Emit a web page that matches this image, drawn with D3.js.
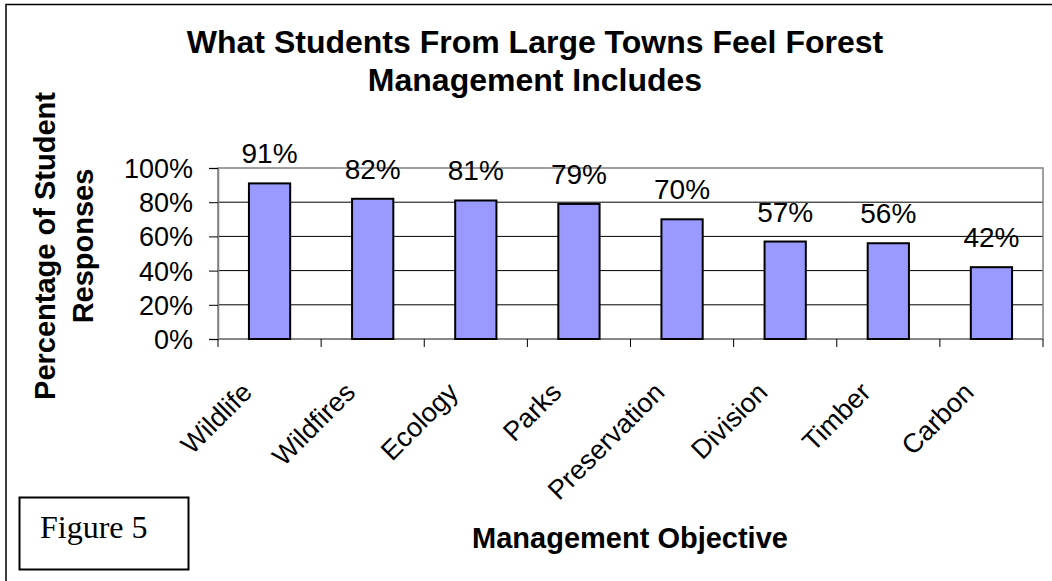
<!DOCTYPE html>
<html>
<head>
<meta charset="utf-8">
<script src="https://cdn.jsdelivr.net/npm/d3@7"></script>
<style>
	body { margin: 0; background: #fff; }
	svg { display: block; font-family: Arial, "Liberation Sans", sans-serif; }
</style>
</head>
<body>
<div id="chart"></div>
<script>
// categories and values
var categories = ["Wildlife", "Wildfires", "Ecology", "Parks", "Preservation", "Division", "Timber", "Carbon"];
var values = [0.91, 0.82, 0.81, 0.79, 0.70, 0.57, 0.56, 0.42];
var yTicks = [0, 0.2, 0.4, 0.6, 0.8, 1.0];
var titleLines = ["What Students From Large Towns Feel Forest", "Management Includes"];
var yTitleLines = ["Percentage of Student", "Responses"];

var W = 1052, H = 581;
var plot = {left: 218, top: 168, right: 1043, bottom: 339};

var svg = d3.select("#chart").append("svg")
	.attr("width", W)
	.attr("height", H);

// outer frame (only top and left edges show)
svg.append("path")
	.attr("d", "M6,581 V4.5 H1052")
	.attr("fill", "none")
	.attr("stroke", "#000")
	.attr("stroke-width", 1.5);

// scales
var x = d3.scaleBand().domain(categories).range([plot.left, plot.right]).paddingInner(0.6).paddingOuter(0.3);
var xb = d3.scaleBand().domain(categories).range([plot.left, plot.right]);
var y = d3.scaleLinear().domain([0, 1]).range([plot.bottom, plot.top]);

// gridlines
svg.append("g").selectAll("line")
	.data(yTicks.slice(1, -1))
	.enter().append("line")
	.attr("x1", plot.left).attr("x2", plot.right)
	.attr("y1", function(d){ return y(d); })
	.attr("y2", function(d){ return y(d); })
	.attr("stroke", "#000")
	.attr("stroke-width", 1);

// plot area border
svg.append("rect")
	.attr("x", plot.left).attr("y", plot.top)
	.attr("width", plot.right - plot.left)
	.attr("height", plot.bottom - plot.top)
	.attr("fill", "none")
	.attr("stroke", "#808080")
	.attr("stroke-width", 1.5);

// y axis
var yAxis = svg.append("g")
	.attr("transform", "translate(" + plot.left + ",0)")
	.call(d3.axisLeft(y).tickValues(yTicks).tickFormat(d3.format(".0%")).tickSize(9).tickPadding(16));
yAxis.select(".domain").attr("stroke", "#808080").attr("stroke-width", 1.5);
yAxis.selectAll(".tick line").attr("stroke", "#000");
yAxis.selectAll(".tick text")
	.attr("font-size", 27)
	.attr("font-family", "Arial, 'Liberation Sans', sans-serif")
	.attr("fill", "#000")
	.attr("dy", "0.35em");

// x axis: ticks sit on the band edges
var xAxis = svg.append("g")
	.attr("transform", "translate(0," + plot.bottom + ")");
xAxis.append("line")
	.attr("x1", plot.left).attr("x2", plot.right)
	.attr("stroke", "#808080").attr("stroke-width", 1.5);
xAxis.selectAll(".edge")
	.data(categories.concat(["end"]))
	.enter().append("line")
	.attr("class", "edge")
	.attr("x1", function(d, i){ return plot.left + i * xb.bandwidth(); })
	.attr("x2", function(d, i){ return plot.left + i * xb.bandwidth(); })
	.attr("y1", 0).attr("y2", 8)
	.attr("stroke", "#000");

// category labels, rotated
svg.append("g").selectAll("text")
	.data(categories)
	.enter().append("text")
	.attr("transform", function(d){
		return "translate(" + (xb(d) + xb.bandwidth() / 2 - 16) + "," + 394 + ") rotate(-45)";
	})
	.attr("text-anchor", "end")
	.attr("font-size", 27)
	.text(function(d){ return d; });

// bars
svg.append("g").selectAll("rect")
	.data(values)
	.enter().append("rect")
	.attr("x", function(d, i){ return x(categories[i]); })
	.attr("y", function(d){ return y(d); })
	.attr("width", x.bandwidth())
	.attr("height", function(d){ return y(0) - y(d); })
	.attr("fill", "#9999FF")
	.attr("stroke", "#000")
	.attr("stroke-width", 2);

// value labels
svg.append("g").selectAll("text")
	.data(values)
	.enter().append("text")
	.attr("x", function(d, i){ return x(categories[i]) + x.bandwidth() / 2; })
	.attr("y", function(d){ return y(d) - 20; })
	.attr("text-anchor", "middle")
	.attr("font-size", 28)
	.text(function(d){ return d3.format(".0%")(d); });

// chart title
svg.append("g").selectAll("text")
	.data(titleLines)
	.enter().append("text")
	.attr("x", 535)
	.attr("y", function(d, i){ return 53 + i * 38; })
	.attr("text-anchor", "middle")
	.attr("font-size", 32)
	.attr("font-weight", "bold")
	.text(function(d){ return d; });

// y axis title
svg.append("g").selectAll("text")
	.data(yTitleLines)
	.enter().append("text")
	.attr("transform", function(d, i){ return "translate(" + (55 + i * 38) + ",246) rotate(-90)"; })
	.attr("text-anchor", "middle")
	.attr("font-size", 29)
	.attr("font-weight", "bold")
	.text(function(d){ return d; });

// x axis title
svg.append("text")
	.attr("x", 630)
	.attr("y", 548)
	.attr("text-anchor", "middle")
	.attr("font-size", 29)
	.attr("font-weight", "bold")
	.text("Management Objective");

// figure tag box
svg.append("rect")
	.attr("x", 19.5).attr("y", 497.5)
	.attr("width", 169).attr("height", 72)
	.attr("fill", "#fff")
	.attr("stroke", "#000")
	.attr("stroke-width", 2);
svg.append("text")
	.attr("x", 40)
	.attr("y", 538)
	.attr("font-family", "'Liberation Serif', 'Times New Roman', serif")
	.attr("font-size", 32)
	.text("Figure 5");
</script>
</body>
</html>
